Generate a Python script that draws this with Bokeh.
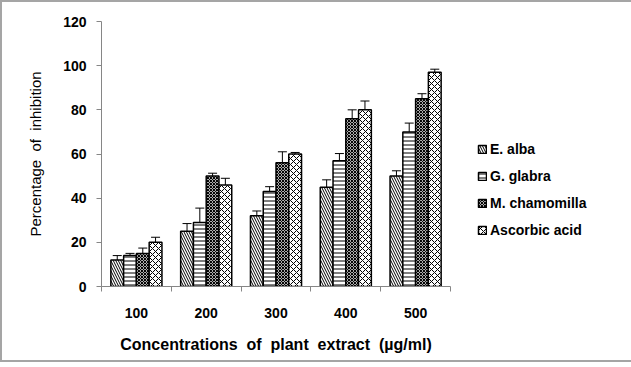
from bokeh.plotting import figure
from bokeh.models import (ColumnDataSource, Range1d, FixedTicker, Whisker, TeeHead,
                          Legend, LegendItem)
from bokeh.transform import dodge
from bokeh.embed import file_html
from bokeh.resources import INLINE

concentrations = ["100", "200", "300", "400", "500"]
e_alba = [12, 25, 32, 45, 50]
e_alba_err = [2, 3.5, 2.2, 3.3, 2.4]
g_glabra = [14, 29, 43, 57, 70]
g_glabra_err = [1, 6.5, 2.2, 3.2, 4]
m_chamomilla = [15, 50, 56, 76, 85]
m_chamomilla_err = [2.4, 1.3, 5, 4, 2.3]
ascorbic = [20, 46, 60, 80, 97]
ascorbic_err = [2.3, 3, 0.7, 4, 1.4]

series_names = ["E. alba", "G. glabra", "M. chamomilla", "Ascorbic acid"]
series_vals = [e_alba, g_glabra, m_chamomilla, ascorbic]
series_errs = [e_alba_err, g_glabra_err, m_chamomilla_err, ascorbic_err]
hatches = [
    dict(hatch_pattern="left_diagonal_line", hatch_scale=5, hatch_weight=1),
    dict(hatch_pattern="horizontal_line", hatch_scale=4, hatch_weight=1),
    dict(hatch_pattern="diagonal_cross", hatch_scale=3, hatch_weight=1.2),
    dict(hatch_pattern="diagonal_cross", hatch_scale=6, hatch_weight=1),
]

FONT = "Liberation Sans"
NB2 = "\u00a0\u00a0"
centers = [i + 0.5 for i in range(len(concentrations))]
bar_w = 0.183
offsets = [-1.5 * bar_w, -0.5 * bar_w, 0.5 * bar_w, 1.5 * bar_w]

p = figure(frame_width=349, frame_height=265, output_backend="svg", toolbar_location=None,
           x_range=Range1d(0, 5), y_range=Range1d(0, 120),
           min_border_left=99, min_border_top=19, min_border_bottom=74,
           min_border_right=176)
p.outline_line_color = None
p.grid.visible = False
p.background_fill_color = "white"
p.border_fill_color = "white"
p.styles = {"border": "2px solid #a5a5a5"}

items = []
for name, vals, errs, off, h in zip(series_names, series_vals, series_errs, offsets, hatches):
    src = ColumnDataSource(dict(
        x=centers, top=vals,
        upper=[v + e for v, e in zip(vals, errs)],
        lower=[v - e for v, e in zip(vals, errs)],
    ))
    r = p.vbar(x=dodge("x", off), top="top", width=bar_w, source=src,
               fill_color="white", line_color="black", line_width=1.5,
               hatch_color="black", **h)
    w = Whisker(base=dodge("x", off), upper="upper", lower="lower", source=src,
                line_color="black", line_width=1,
                upper_head=TeeHead(size=9, line_color="black", line_width=1),
                lower_head=TeeHead(size=9, line_color="black", line_width=1))
    p.add_layout(w)
    items.append(LegendItem(label=name, renderers=[r]))

# y axis
p.yaxis.ticker = FixedTicker(ticks=[0, 20, 40, 60, 80, 100, 120])
p.yaxis.axis_line_color = "#868686"
p.yaxis.major_tick_line_color = "#868686"
p.yaxis.major_tick_out = 5
p.yaxis.major_tick_in = 0
p.yaxis.minor_tick_line_color = None
p.yaxis.major_label_standoff = 10
p.yaxis.major_label_text_font = FONT
p.yaxis.major_label_text_font_style = "bold"
p.yaxis.major_label_text_font_size = "14px"
p.yaxis.major_label_text_color = "black"
p.yaxis.axis_label = NB2.join(["Percentage", "of", "inhibition"])
p.yaxis.axis_label_text_font = FONT
p.yaxis.axis_label_text_font_style = "normal"
p.yaxis.axis_label_text_font_size = "15px"
p.yaxis.axis_label_text_color = "black"
p.yaxis.axis_label_standoff = 16

# x axis: labels at group centers, tick marks at group boundaries
p.xaxis.ticker = FixedTicker(ticks=centers, minor_ticks=list(range(len(concentrations) + 1)))
p.xaxis.major_label_overrides = {c: lab for c, lab in zip(centers, concentrations)}
p.xaxis.axis_line_color = "#868686"
p.xaxis.major_tick_line_color = None
p.xaxis.minor_tick_line_color = "#868686"
p.xaxis.minor_tick_out = 5
p.xaxis.minor_tick_in = 0
p.xaxis.major_label_standoff = 15
p.xaxis.major_label_text_font = FONT
p.xaxis.major_label_text_font_style = "bold"
p.xaxis.major_label_text_font_size = "14px"
p.xaxis.major_label_text_color = "black"
p.xaxis.axis_label = NB2.join(["Concentrations", "of", "plant", "extract", "(µg/ml)"])
p.xaxis.axis_label_text_font = FONT
p.xaxis.axis_label_text_font_style = "bold"
p.xaxis.axis_label_text_font_size = "16px"
p.xaxis.axis_label_text_color = "black"
p.xaxis.axis_label_standoff = 15

legend = Legend(items=items, location=(27, 48), margin=0, padding=5,
                border_line_color=None, background_fill_alpha=0,
                label_text_font=FONT, label_text_font_style="bold",
                label_text_font_size="14px", label_text_color="black",
                glyph_width=10, glyph_height=10, label_height=14,
                label_standoff=3, spacing=11)
p.add_layout(legend, "right")

open("out.html", "w").write(file_html(p, INLINE))
